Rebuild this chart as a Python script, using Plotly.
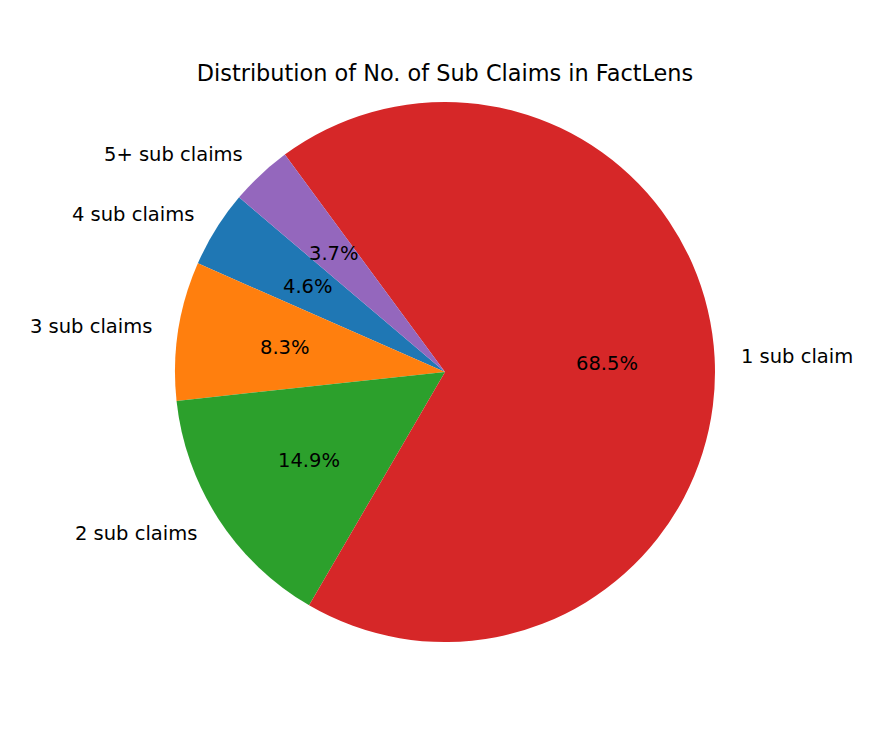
import numpy as np
import plotly.graph_objects as go

# slice data, in drawing order (counterclockwise)
labels = ["4 sub claims", "3 sub claims", "2 sub claims", "1 sub claim", "5+ sub claims"]
shares = [4.6, 8.3, 14.9, 68.5, 3.7]
colors = ["#1f77b4", "#ff7f0e", "#2ca02c", "#d62728", "#9467bd"]

W, H = 869, 738
OFF = 8  # page body margin shifts the plot
CX, CY, R = 445 - OFF, 372 - OFF, 270
START = 139.7  # degrees, math convention, where the first slice starts
FONT = "DejaVu Sans"

total = sum(shares)
first_span = shares[0] / total * 360

fig = go.Figure(go.Pie(
    labels=labels,
    values=shares,
    marker=dict(colors=colors, line=dict(width=0)),
    sort=False,
    direction="counterclockwise",
    rotation=90 - (START + first_span),
    textinfo="none",
    hoverinfo="label+percent",
    showlegend=False,
    domain=dict(x=[(CX - R) / W, (CX + R) / W], y=[1 - (CY + R) / H, 1 - (CY - R) / H]),
))

# label and percentage text, placed like matplotlib (1.1 and 0.6 of radius)
ang = START
for lab, v in zip(labels, shares):
    span = v / total * 360
    mid = np.radians(ang + span / 2)
    ang += span
    c, s = np.cos(mid), np.sin(mid)
    fig.add_annotation(
        x=(CX + 1.1 * R * c) / W, y=1 - (CY - 1.1 * R * s) / H,
        xref="paper", yref="paper", text=lab, showarrow=False,
        xanchor="left" if c > 0 else "right", yanchor="middle",
        xshift=-3 if c > 0 else 3,
        font=dict(family=FONT, size=19.5, color="black"),
    )
    fig.add_annotation(
        x=(CX + 0.6 * R * c) / W, y=1 - (CY - 0.6 * R * s) / H,
        xref="paper", yref="paper", text=f"{v / total * 100:.1f}%", showarrow=False,
        xanchor="center", yanchor="middle",
        font=dict(family=FONT, size=19.5, color="black"),
    )

fig.update_layout(
    width=W, height=H,
    title=dict(text="Distribution of No. of Sub Claims in FactLens",
               x=CX / W, xanchor="center", y=1 - (73 - OFF) / H, yanchor="middle",
               font=dict(family=FONT, size=22.4, color="black")),
    paper_bgcolor="white",
    margin=dict(l=0, r=0, t=0, b=0),
)

fig.write_html("out.html")
